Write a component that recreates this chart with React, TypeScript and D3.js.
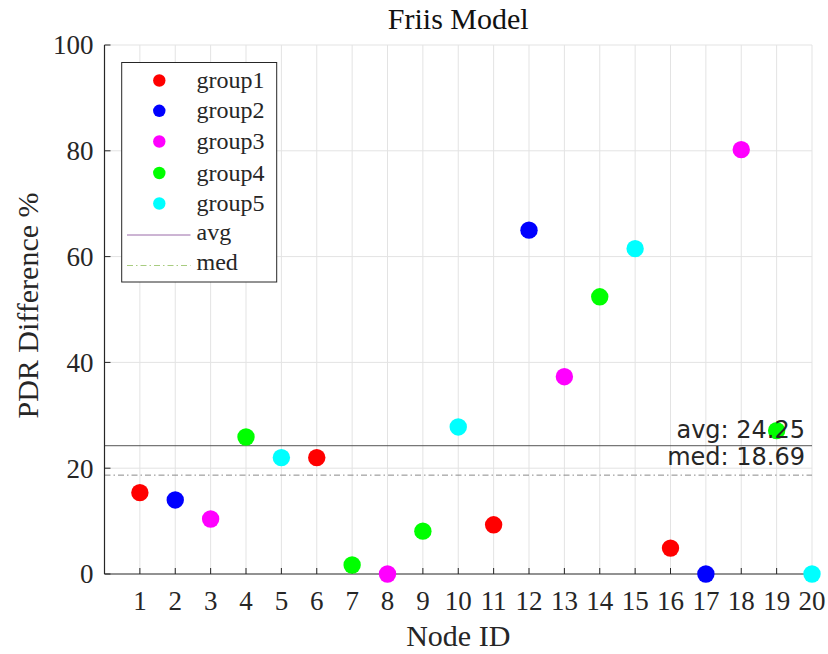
import React from "react";
import * as d3 from "d3";

// Node IDs and their PDR difference (%) with group membership
const nodeIds = [1, 2, 3, 4, 5, 6, 7, 8, 9, 10, 11, 12, 13, 14, 15, 16, 17, 18, 19, 20];
const pdrDiff = [15.38, 14.0, 10.4, 25.9, 22.0, 22.0, 1.7, 0, 8.1, 27.8, 9.3, 65.0, 37.3, 52.4, 61.5, 4.9, 0, 80.22, 27.1, 0];
const groupOf = [1, 2, 3, 4, 5, 1, 4, 3, 4, 5, 1, 2, 3, 4, 5, 1, 2, 3, 4, 5];

const groupNames = ["group1", "group2", "group3", "group4", "group5"];
const groupColors = ["#ff0000", "#0000ff", "#ff00ff", "#00ff00", "#00ffff"];

const yTicks = [0, 20, 40, 60, 80, 100];

const W = 828;
const H = 654;
const margin = { left: 104.5, right: 16, top: 45, bottom: 80 };

export default function App() {
  const x = d3.scaleLinear().domain([0, 20]).range([margin.left, W - margin.right]);
  const y = d3.scaleLinear().domain([0, 100]).range([H - margin.bottom, margin.top]);

  const avg = d3.mean(pdrDiff) as number;
  const med = d3.median(pdrDiff) as number;

  const serif = "'Liberation Serif', 'DejaVu Serif', serif";
  const sans = "'DejaVu Sans', sans-serif";
  const x0 = x(0);
  const x1 = x(20);
  const y0 = y(0);
  const y1 = y(100);

  const legendRows = [80.5, 110.8, 141.5, 173, 203.5, 235, 265.5];

  return (
    <svg width={W} height={H} style={{ position: "absolute", left: 0, top: 0, background: "#fff" }}>
      {/* grid */}
      {nodeIds.map((n) => (
        <line key={"gx" + n} x1={x(n)} x2={x(n)} y1={y0} y2={y1} stroke="#e3e3e3" strokeWidth={1} />
      ))}
      {yTicks.filter((t) => t > 0).map((t) => (
        <line key={"gy" + t} x1={x0} x2={x1} y1={y(t)} y2={y(t)} stroke="#e3e3e3" strokeWidth={1} />
      ))}

      {/* reference lines */}
      <line x1={x0} x2={x1} y1={y(avg)} y2={y(avg)} stroke="#555" strokeWidth={1} />
      <line x1={x0} x2={x1} y1={y(med)} y2={y(med)} stroke="#8a8a8a" strokeWidth={1} strokeDasharray="6,3,1.5,3" />

      {/* axes */}
      <line x1={x0} x2={x0} y1={y0} y2={y1} stroke="#262626" strokeWidth={1.2} />
      <line x1={x0} x2={x1} y1={y0} y2={y0} stroke="#262626" strokeWidth={1.2} />
      {yTicks.map((t) => (
        <g key={"ty" + t}>
          <line x1={x0} x2={x0 + 6} y1={y(t)} y2={y(t)} stroke="#262626" strokeWidth={1} />
          <text x={x0 - 11} y={y(t)} dy="0.35em" textAnchor="end" fontFamily={serif} fontSize={27} fill="#262626">
            {t}
          </text>
        </g>
      ))}
      {nodeIds.map((n) => (
        <g key={"tx" + n}>
          <line x1={x(n)} x2={x(n)} y1={y0} y2={y0 - 6} stroke="#262626" strokeWidth={1} />
          <text x={x(n)} y={y0 + 27} dy="0.35em" textAnchor="middle" fontFamily={serif} fontSize={27} fill="#262626">
            {n}
          </text>
        </g>
      ))}

      {/* points */}
      {pdrDiff.map((v, i) => (
        <circle key={"p" + i} cx={x(nodeIds[i])} cy={y(v)} r={8.7} fill={groupColors[groupOf[i] - 1]} />
      ))}

      {/* avg / med labels */}
      <text x={805} y={y(avg) - 7.5} textAnchor="end" fontFamily={sans} fontSize={24} fill="#262626">
        {"avg: " + avg.toFixed(2)}
      </text>
      <text x={805} y={y(med) - 10} textAnchor="end" fontFamily={sans} fontSize={24} fill="#262626">
        {"med: " + med.toFixed(2)}
      </text>

      {/* titles */}
      <text x={(x0 + x1) / 2} y={29} textAnchor="middle" fontFamily={serif} fontSize={30} fill="#111">
        Friis Model
      </text>
      <text x={(x0 + x1) / 2} y={646} textAnchor="middle" fontFamily={serif} fontSize={30} fill="#262626">
        Node ID
      </text>
      <text
        transform={`translate(38, ${(y0 + y1) / 2 - 4}) rotate(-90)`}
        textAnchor="middle"
        fontFamily={serif}
        fontSize={30}
        fill="#262626"
      >
        PDR Difference %
      </text>

      {/* legend */}
      <rect x={121.7} y={62.5} width={155} height={219.5} fill="#fff" stroke="#262626" strokeWidth={1} />
      {groupNames.map((g, i) => (
        <g key={g}>
          <circle cx={159.3} cy={legendRows[i]} r={6.2} fill={groupColors[i]} />
          <text x={196.5} y={legendRows[i]} dy="0.32em" fontFamily={serif} fontSize={24} fill="#262626">
            {g}
          </text>
        </g>
      ))}
      <line x1={127} x2={190.5} y1={legendRows[5]} y2={legendRows[5]} stroke="#9a6aa8" strokeWidth={1} />
      <text x={196.5} y={legendRows[5]} dy="0.2em" fontFamily={serif} fontSize={24} fill="#262626">
        avg
      </text>
      <line
        x1={127}
        x2={190.5}
        y1={legendRows[6]}
        y2={legendRows[6]}
        stroke="#a8cc80"
        strokeWidth={1}
        strokeDasharray="6,3,1.5,3"
      />
      <text x={196.5} y={legendRows[6]} dy="0.2em" fontFamily={serif} fontSize={24} fill="#262626">
        med
      </text>
    </svg>
  );
}
